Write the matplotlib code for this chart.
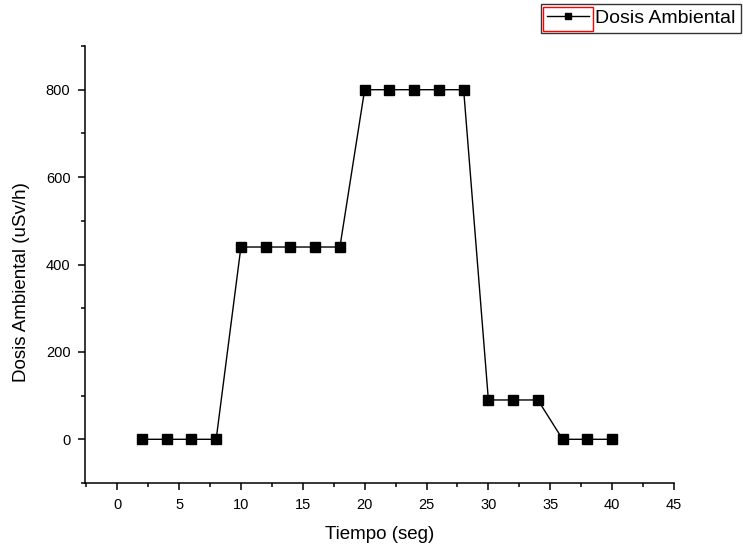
import matplotlib
matplotlib.use("Agg")
import matplotlib.pyplot as plt
from matplotlib.patches import Rectangle
from matplotlib.ticker import MultipleLocator

plt.rcParams['font.family'] = ['Liberation Sans', 'DejaVu Sans']

# datos
tiempo = [2, 4, 6, 8, 10, 12, 14, 16, 18, 20, 22, 24, 26, 28, 30, 32, 34, 36, 38, 40]
dosis = [0, 0, 0, 0, 440, 440, 440, 440, 440, 800, 800, 800, 800, 800, 90, 90, 90, 0, 0, 0]

fig = plt.figure(figsize=(7.43, 5.51), dpi=100)
ax = fig.add_axes([85 / 743, 1 - 483 / 551, 589 / 743, 437 / 551])

ax.plot(tiempo, dosis, color='black', lw=1.0, marker='s', markersize=7.2,
        markerfacecolor='black', markeredgecolor='black', label='Dosis Ambiental')

ax.set_xlim(-2.6, 45)
ax.set_ylim(-100, 900)
ax.xaxis.set_major_locator(MultipleLocator(5))
ax.xaxis.set_minor_locator(MultipleLocator(2.5))
ax.yaxis.set_major_locator(MultipleLocator(200))
ax.yaxis.set_minor_locator(MultipleLocator(100))

for s in ['top', 'right']:
    ax.spines[s].set_visible(False)
for s in ['left', 'bottom']:
    ax.spines[s].set_linewidth(1.1)

ax.tick_params(which='major', direction='out', length=5, width=1.1, pad=5.5,
               labelsize=10.5, colors='black')
ax.tick_params(which='minor', direction='out', length=3, width=1.1)

ax.set_xlabel('Tiempo (seg)', fontsize=13.5)
ax.set_ylabel('Dosis Ambiental (uSv/h)', fontsize=13.5)
ax.xaxis.set_label_coords(0.5, -0.098)
ax.yaxis.set_label_coords(-0.094, 0.46)

leg = fig.legend(loc='upper right', bbox_to_anchor=(741 / 743, 1 - 4 / 551),
                 fontsize=14, frameon=True, fancybox=False, edgecolor='black',
                 borderpad=0.28, handlelength=2.2, handletextpad=0.3,
                 borderaxespad=0, markerscale=0.6)
leg.get_frame().set_linewidth(1.0)

# recuadro rojo alrededor del símbolo de la leyenda
fig.canvas.draw()
renderer = fig.canvas.get_renderer()
hb = leg.legend_handles[0].get_window_extent(renderer)
fb = leg.get_frame().get_window_extent(renderer)
inv = fig.transFigure.inverted()
x0, y0 = inv.transform((hb.x0 - 1, fb.y0 + 1.5))
x1, y1 = inv.transform((hb.x1 + 1, fb.y1 - 3.5))
red = Rectangle((x0, y0), x1 - x0, y1 - y0, transform=fig.transFigure,
                fill=False, edgecolor='red', lw=1.0, zorder=10)
fig.add_artist(red)

fig.savefig('out.png', dpi=100)
